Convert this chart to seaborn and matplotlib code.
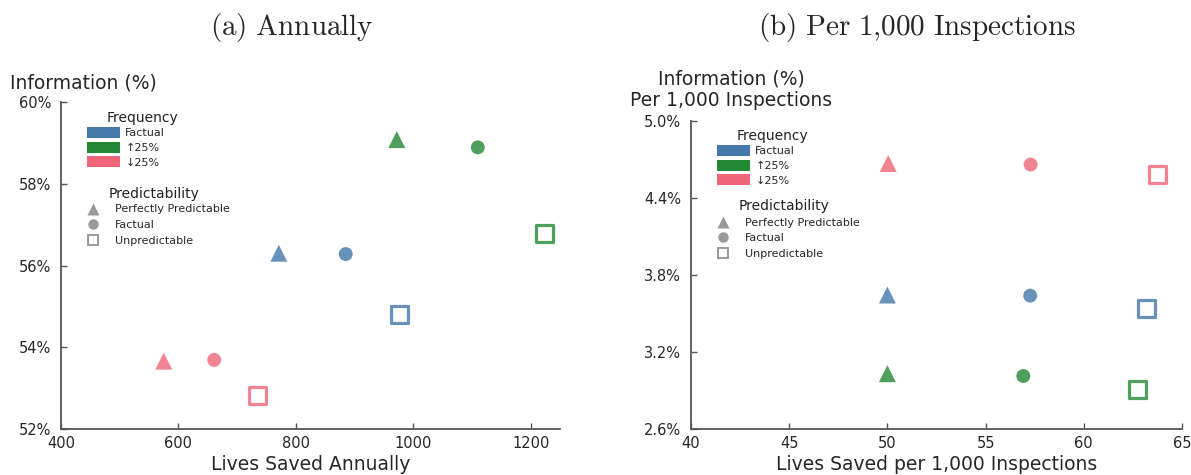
import numpy as np
import pandas as pd
import matplotlib
matplotlib.use("Agg")
import matplotlib.pyplot as plt
import seaborn as sns
from matplotlib.patches import Patch
from matplotlib.lines import Line2D
from matplotlib.ticker import FuncFormatter

# ---- data ----
frequencies = ["Factual", "↑25%", "↓25%"]
predictabilities = ["Perfectly Predictable", "Factual", "Unpredictable"]

# rows = frequency, cols = predictability (triangle, circle, square)
annual_lives = [[771, 885, 977],      # Factual
                [972, 1110, 1224],    # up 25%
                [575, 661, 734]]      # down 25%
annual_info = [[56.30, 56.28, 54.79],
               [59.08, 58.89, 56.78],
               [53.66, 53.69, 52.83]]

per1000_lives = [[50.0, 57.27, 63.21],
                 [50.0, 56.92, 62.73],
                 [50.04, 57.29, 63.73]]
per1000_info = [[3.644, 3.639, 3.54],
                [3.031, 3.013, 2.906],
                [4.669, 4.661, 4.583]]

colors = ["#4477AA", "#228833", "#EE6677"]
markers = ["^", "o", "s"]
msizes = [150, 100, 150]

def build(lives, info):
    rows = []
    for i, f in enumerate(frequencies):
        for j, p in enumerate(predictabilities):
            rows.append(dict(freq=f, pred=p, x=lives[i][j], y=info[i][j]))
    return pd.DataFrame(rows)

df_a = build(annual_lives, annual_info)
df_b = build(per1000_lives, per1000_info)

sns.set_style("ticks")
plt.rcParams["font.family"] = ["DejaVu Sans"]
plt.rcParams["mathtext.fontset"] = "cm"

fig = plt.figure(figsize=(11.91, 4.75), dpi=100)
W, H = 1191, 475
def axrect(l, r, t, b):
    return [l / W, (H - b) / H, (r - l) / W, (b - t) / H]

ax1 = fig.add_axes(axrect(61, 560, 102, 429))
ax2 = fig.add_axes(axrect(691, 1182, 121, 429))

pal = dict(zip(frequencies, colors))

def draw(ax, df):
    for j, p in enumerate(predictabilities):
        sub = df[df.pred == p]
        sns.scatterplot(data=sub, x="x", y="y", hue="freq", palette=pal,
                        hue_order=frequencies, marker=markers[j], s=msizes[j],
                        alpha=0.8, linewidth=0, legend=False, ax=ax)
        if markers[j] == "s":
            coll = ax.collections[-1]
            fc = coll.get_facecolors()
            coll.set_edgecolors(fc)
            coll.set_facecolors("none")
            coll.set_linewidth(2.3)
            coll.set_sizes([150])

draw(ax1, df_a)
draw(ax2, df_b)

ax1.set_xlim(400, 1250)
ax1.set_ylim(52, 60)
ax1.set_xticks([400, 600, 800, 1000, 1200])
ax1.set_yticks([52, 54, 56, 58, 60])
ax1.yaxis.set_major_formatter(FuncFormatter(lambda v, p: f"{v:.0f}%"))

ax2.set_xlim(40, 65)
ax2.set_ylim(2.6, 5.0)
ax2.set_xticks([40, 45, 50, 55, 60, 65])
ax2.set_yticks([2.6, 3.2, 3.8, 4.4, 5.0])
ax2.yaxis.set_major_formatter(FuncFormatter(lambda v, p: f"{v:.1f}%"))

for ax in (ax1, ax2):
    sns.despine(ax=ax)
    for s in ("left", "bottom"):
        ax.spines[s].set_color("#555555")
        ax.spines[s].set_linewidth(1.3)
    ax.tick_params(direction="in", length=4, width=1.0, color="#555555",
                   labelsize=10.5)
    ax.tick_params(axis="y", pad=7)
    ax.tick_params(axis="x", pad=5)

ax1.set_xlabel("Lives Saved Annually", fontsize=13.5, labelpad=3)
ax2.set_xlabel("Lives Saved per 1,000 Inspections", fontsize=13.5, labelpad=3)
ax1.set_ylabel("Information (%)", fontsize=13.5, rotation=0, ha="left", va="center")
ax1.yaxis.set_label_coords((10 - 61) / 499, (429 - 83) / 327)
ax2.set_ylabel("Information (%)\nPer 1,000 Inspections", fontsize=13.5, rotation=0,
               ha="center", va="center", multialignment="center", linespacing=1.2)
ax2.yaxis.set_label_coords((731 - 691) / 491, (429 - 90) / 308)

fig.text(292 / W, 1 - 27 / H, r"$\mathrm{(a)\ Annually}$", fontsize=21,
         ha="center", va="center")
fig.text(917 / W, 1 - 27 / H, r"$\mathrm{(b)\ Per\ 1{,}000\ Inspections}$", fontsize=21,
         ha="center", va="center")

def add_legends(ax, ax_l, ax_b, ax_h, x0, ft, fp, pt, pp):
    ax_w = 499 if ax is ax1 else 491
    def fx(px):
        return (px - ax_l) / ax_w
    def fy(py):
        return (ax_b - py) / ax_h
    ax.text(fx(ft[0]), fy(ft[1]), "Frequency", transform=ax.transAxes,
            fontsize=10, ha="center", va="center", color="#222222")
    h1 = [Patch(facecolor=c, edgecolor="none") for c in colors]
    leg1 = ax.legend(h1, frequencies, loc="upper left",
                     bbox_to_anchor=(fx(x0), fy(fp)), frameon=False, fontsize=8,
                     handlelength=3.0, handleheight=1.15,
                     labelspacing=0.3, handletextpad=0.45, borderpad=0,
                     borderaxespad=0)
    ax.add_artist(leg1)
    ax.text(fx(pt[0]), fy(pt[1]), "Predictability", transform=ax.transAxes,
            fontsize=10, ha="center", va="center", color="#222222")
    h2 = [Line2D([], [], linestyle="none", marker="^", markersize=8,
                 markerfacecolor="#999999", markeredgecolor="none"),
          Line2D([], [], linestyle="none", marker="o", markersize=7.5,
                 markerfacecolor="#999999", markeredgecolor="none"),
          Line2D([], [], linestyle="none", marker="s", markersize=7.5,
                 markerfacecolor="none", markeredgecolor="#999999",
                 markeredgewidth=1.4)]
    ax.legend(h2, predictabilities, loc="upper left",
              bbox_to_anchor=(fx(x0), fy(pp)), frameon=False, fontsize=8,
              handlelength=1.1, labelspacing=0.5,
              handletextpad=1.4, borderpad=0, borderaxespad=0)

add_legends(ax1, 61, 429, 327, 87, (143, 118), 127, (154, 194), 204.5)
add_legends(ax2, 691, 429, 308, 717, (773, 136), 145, (784, 206), 217.5)

fig.savefig("out.png", dpi=100)
